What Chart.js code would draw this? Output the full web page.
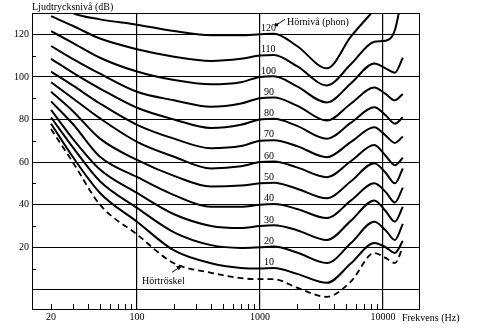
<!DOCTYPE html>
<html>
<head>
<meta charset="utf-8">
<script src="https://cdn.jsdelivr.net/npm/chart.js@4.4.1/dist/chart.umd.min.js"></script>
<style>
  html, body { margin: 0; padding: 0; background: #fff; }
</style>
</head>
<body>
<canvas id="chart" width="484" height="329"></canvas>
<script>
// frequencies (Hz) where each curve is sampled
const freqs = [20, 30, 50, 100, 200, 400, 700, 1000, 1300, 2000, 3500, 5500, 8500, 10500, 12500, 14500];

// sound pressure level (dB) of each loudness curve
const phon120 = [136, 130, 127, 124.5, 121.5, 119.5, 119.5, 120, 120.3, 114.5, 104, 119, 131.5, null, null, null];
const phon110 = [128.5, 124, 118, 113, 109.5, 107.5, 108.5, 110, 110.3, 105, 96, 106, 116.5, 117, 122, 140];
const phon100 = [121.5, 116, 109, 102.5, 98.5, 96.5, 97.5, 100, 100.3, 95.5, 88, 97, 106.3, 104, 102, 109];
const phon90 = [114.5, 108.5, 101.5, 93, 89, 86, 87.5, 90, 90.3, 86.5, 79.5, 87.5, 95, 92, 89, 92];
const phon80 = [108.5, 102, 94.5, 85.5, 80, 76, 77.5, 80, 80.3, 77, 71, 78.5, 85.7, 82, 78, 81];
const phon70 = [102.5, 96, 87.5, 77.5, 71, 66.5, 67.5, 70, 70.3, 67.5, 62.3, 69.5, 76.3, 72.5, 69, 72];
const phon60 = [97.5, 90, 80.5, 69.5, 62.5, 57, 58, 60, 60.3, 57.5, 52.9, 60.5, 68, 63, 58.5, 62];
const phon50 = [93, 84, 71, 61, 53.5, 48.5, 49, 50, 50.3, 47.5, 43, 51, 59.5, 55, 50, 57];
const phon40 = [88.5, 78, 62.5, 53, 44.5, 39, 39, 40, 40.3, 38, 33.7, 42, 50, 46, 41, 48];
const phon30 = [84.5, 71, 56.5, 45.5, 35.5, 30, 29, 30, 30.3, 28, 23.4, 32.5, 42, 37, 32, 39];
const phon20 = [81, 67, 51, 38.5, 27, 21, 19.7, 20, 20.3, 17.5, 12.6, 22, 32, 28, 23.4, 31];
const phon10 = [78, 62.5, 45.5, 32, 18.5, 12.5, 10.3, 10, 10.3, 7.5, 3.3, 12.5, 22, 20, 17.3, 23];
const threshold = [75.5, 60, 40, 26, 12.5, 8, 5.5, 5, 5, 1, -3.3, 4, 17.3, 15, 12.6, 20];

const phonLevels = [120, 110, 100, 90, 80, 70, 60, 50, 40, 30, 20, 10];
const phonCurves = [phon120, phon110, phon100, phon90, phon80, phon70, phon60, phon50, phon40, phon30, phon20, phon10];

const xTickValues = [20, 100, 1000, 10000];
const yTickValues = [0, 20, 40, 60, 80, 100, 120];
const yMinorValues = [10, 30, 50, 70, 90, 110];
const xMinorSteps = [2, 3, 4, 5, 6, 7, 8, 9];
const xMinorDecades = [10, 100, 1000];

const SERIF = '"Liberation Serif", "Times New Roman", serif';

const toPoints = (values) => freqs
  .map((f, i) => ({x: f, y: values[i]}))
  .filter((p) => p.y !== null);

const datasets = phonCurves.map((values, i) => ({
  label: `${phonLevels[i]}`,
  data: toPoints(values),
  borderColor: `#000`,
  borderWidth: 2,
  pointRadius: 0,
  fill: false,
  cubicInterpolationMode: `monotone`
}));

datasets.push({
  label: `Hörtröskel`,
  data: toPoints(threshold),
  borderColor: `#000`,
  borderWidth: 1.8,
  borderDash: [6, 4],
  pointRadius: 0,
  fill: false,
  cubicInterpolationMode: `monotone`
});

const decor = {
  id: `decor`,
  afterDraw(chart) {
    const {ctx, chartArea: a, scales: {x, y}} = chart;
    ctx.save();
    ctx.strokeStyle = `#000`;
    ctx.fillStyle = `#000`;
    ctx.lineWidth = 1;
    ctx.strokeRect(a.left + 0.5, a.top + 0.5, a.right - a.left - 1, a.bottom - a.top);

    // small inward ticks on both axes
    ctx.beginPath();
    xMinorDecades.forEach((d) => xMinorSteps.forEach((s) => {
      const f = d * s;
      if (f < 20) {
        return;
      }
      const px = Math.round(x.getPixelForValue(f)) + 0.5;
      ctx.moveTo(px, a.bottom);
      ctx.lineTo(px, a.bottom - 5);
    }));
    yMinorValues.forEach((v) => {
      const py = Math.round(y.getPixelForValue(v)) + 0.5;
      ctx.moveTo(a.left, py);
      ctx.lineTo(a.left + 4, py);
    });
    ctx.stroke();

    // phon labels next to 1000 Hz
    ctx.font = `10px ${SERIF}`;
    ctx.textBaseline = `bottom`;
    ctx.textAlign = `left`;
    const x1k = x.getPixelForValue(1000);
    phonLevels.forEach((p) => {
      ctx.fillText(String(p), x1k + (p >= 100 ? 1 : 4), y.getPixelForValue(p) - 1);
    });

    // "Hörnivå (phon)" with leader to the 120 label
    const y120 = y.getPixelForValue(120);
    ctx.beginPath();
    ctx.moveTo(x1k + 16, y120 - 9);
    ctx.lineTo(x1k + 25, y120 - 15);
    ctx.stroke();
    ctx.fillRect(x1k + 15, y120 - 11, 3, 3);
    ctx.textBaseline = `middle`;
    ctx.fillText(`Hörnivå (phon)`, x1k + 27, y120 - 12);

    // "Hörtröskel" with arrow to the dashed curve
    const x100 = x.getPixelForValue(100);
    const yT = y.getPixelForValue(4);
    ctx.fillText(`Hörtröskel`, x100 + 5, yT);
    ctx.beginPath();
    ctx.moveTo(x100 + 35, yT - 9);
    ctx.lineTo(x100 + 44, yT - 15);
    ctx.stroke();
    ctx.beginPath();
    ctx.moveTo(x100 + 45, yT - 16);
    ctx.lineTo(x100 + 39, yT - 15);
    ctx.lineTo(x100 + 42, yT - 11);
    ctx.closePath();
    ctx.fill();

    // axis titles
    ctx.font = `10px ${SERIF}`;
    ctx.textBaseline = `bottom`;
    ctx.fillText(`Ljudtrycksnivå (dB)`, a.left, a.top - 1);
    ctx.textBaseline = `middle`;
    ctx.fillText(`Frekvens (Hz)`, x.getPixelForValue(10000) + 19, a.bottom + 9);
    ctx.restore();
  }
};

new Chart(document.getElementById(`chart`), {
  type: `line`,
  data: {datasets},
  plugins: [decor],
  options: {
    responsive: false,
    animation: false,
    devicePixelRatio: 1,
    layout: {padding: {top: 13, right: 64, left: 0, bottom: 0}},
    plugins: {legend: {display: false}, tooltip: {enabled: false}},
    scales: {
      x: {
        type: `logarithmic`,
        min: 14,
        max: 20000,
        afterBuildTicks: (axis) => {
          axis.ticks = xTickValues.map((v) => ({value: v}));
        },
        afterFit: (scale) => {
          scale.height = 20;
        },
        ticks: {
          autoSkip: false,
          maxRotation: 0,
          padding: 2,
          color: `#000`,
          font: {family: SERIF, size: 10},
          callback: (v) => String(v)
        },
        grid: {
          drawTicks: false,
          lineWidth: 1.2,
          color: (c) => (c.tick && c.tick.value === 20 ? `rgba(0,0,0,0)` : `#000`)
        },
        border: {display: false}
      },
      y: {
        type: `linear`,
        min: -9,
        max: 130,
        afterBuildTicks: (axis) => {
          axis.ticks = yTickValues.map((v) => ({value: v}));
        },
        afterFit: (scale) => {
          scale.width = 32;
        },
        ticks: {
          padding: 3,
          color: `#000`,
          font: {family: SERIF, size: 10},
          callback: (v) => (v === 0 ? `` : String(v))
        },
        grid: {drawTicks: false, lineWidth: 1, color: `#000`},
        border: {display: false}
      }
    }
  }
});
</script>
</body>
</html>
